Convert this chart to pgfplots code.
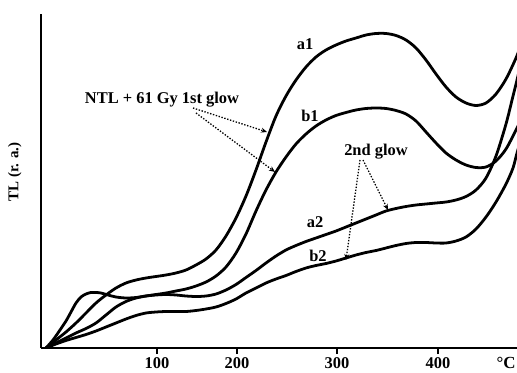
\documentclass[border=0pt]{standalone}
\usepackage{fontspec}
\setmainfont{Liberation Serif}
\usepackage{pgfplots}
\pgfplotsset{compat=1.18}
\usetikzlibrary{arrows.meta}
\begin{document}
\begin{tikzpicture}[lbl/.style={font=\bfseries\fontsize{16.5}{18}\selectfont, inner sep=0pt},
  arr/.style={line width=1.3pt, dash pattern=on 1.4pt off 1.6pt, -{Stealth[length=6pt,width=5pt]}},
  crv/.style={black, line width=2.8pt, smooth, tension=0.5, mark=none, line join=round}]
\begin{axis}[
  scale only axis, width=476bp, height=334bp,
  xmin=0, xmax=476, ymin=0, ymax=334,
  axis lines=left, axis line style={-, line width=2.6pt},
  xtick={116,196,296,397}, xticklabels={100,200,300,400},
  ytick=\empty,
  tick align=outside, major tick length=6bp, xtick style={line width=1.6pt, black},
  tick label style={font=\bfseries\fontsize{16.5}{18}\selectfont},
  ylabel={TL (r. a.)},
  ylabel style={font=\bfseries\fontsize{15}{17}\selectfont, at={(axis description cs:-0.055,0.527)}, anchor=center},
  xlabel={\textdegree C},
  xlabel style={font=\bfseries\fontsize{17}{19}\selectfont, at={(axis description cs:0.977,-0.045)}, anchor=center},
]
% a1
\addplot[crv] coordinates {(5,0)(15,8)(25,16)(35,25)(45,35)(55,45)(65,53)(75,60)(85,65)(95,68)(105,70)(115,71.5)(125,73)(135,75)(145,78)(155,83)(165,89)(175,98)(185,112)(195,130)(205,152)(215,178)(225,206)(235,232)(245,252)(255,268)(265,281)(275,291)(285,298)(295,303)(305,307)(315,310)(325,313)(335,314.5)(345,314.5)(355,312.5)(365,308)(375,300)(385,288)(395,274)(405,261)(415,251)(425,245)(435,242.5)(445,245)(455,254)(465,269)(475,290)(481,306)};
% b1
\addplot[crv] coordinates {(5,0)(12,8)(19,18)(25,27)(30,36)(35,45)(40,51)(45,54)(50,55.5)(55,55.5)(60,55)(67,53)(75,51)(85,50)(95,50.5)(105,52)(115,53.5)(125,55)(135,57)(145,59)(155,62)(165,66)(175,72)(185,81)(195,95)(205,114)(215,137)(225,158)(235,176)(245,191)(255,204)(265,214)(275,222)(285,228)(295,232.5)(305,235.5)(315,238)(325,239.5)(335,240)(345,239.5)(355,237.5)(365,234)(375,227)(385,216)(395,205)(405,195)(415,188)(425,183)(435,180.5)(445,181)(455,187)(465,199)(475,218)(481,230)};
% a2
\addplot[crv] coordinates {(5,0)(15,5)(25,10)(35,15)(45,19.5)(55,25)(65,33)(75,41)(85,46.5)(95,50)(105,52)(115,53)(125,53.5)(135,53)(145,52)(155,51.5)(165,52)(175,54)(185,58)(195,63.5)(205,70.5)(215,77.5)(225,85)(235,92)(245,98)(255,102.5)(265,106.5)(275,110)(285,113.5)(295,117)(305,121)(315,125)(325,129)(335,133)(345,137)(355,139.5)(365,141.5)(375,143)(385,144)(395,145)(405,146)(415,148)(425,151.5)(435,158)(445,170)(455,192)(465,224)(472,252)(476,268)(481,290)};
% b2
\addplot[crv] coordinates {(5,0)(15,4)(25,7.5)(35,10.5)(45,13.5)(55,17)(65,21)(75,25)(85,29)(95,32.5)(105,35)(115,36)(125,36.5)(135,36.5)(145,36.5)(155,37.5)(165,39)(175,41)(185,44.5)(195,49)(205,55)(215,60)(225,65)(235,69)(245,72.5)(255,76.5)(265,80)(275,82.5)(285,84.5)(295,87)(305,90)(315,93)(325,95.5)(335,97.5)(345,100)(355,102.5)(365,104.5)(375,105.5)(385,105.5)(395,105)(405,105)(415,107)(425,111)(435,119)(445,131)(455,146)(465,164)(472,180)(476,195)(481,212)};
\node[lbl] at (axis cs:121,248) {NTL + 61 Gy 1st glow};
\node[lbl] at (axis cs:264,304) {a1};
\node[lbl] at (axis cs:269,232) {b1};
\node[lbl] at (axis cs:335,196) {2nd glow};
\node[lbl] at (axis cs:274,126) {a2};
\node[lbl] at (axis cs:277,92) {b2};
\draw[arr] (axis cs:152,240) -- (axis cs:226,216);
\draw[arr] (axis cs:155,235) -- (axis cs:234,176);
\draw[arr] (axis cs:322,188) -- (axis cs:347,138);
\draw[arr] (axis cs:319,188) -- (axis cs:305,88);
\end{axis}
\pgfresetboundingbox
\useasboundingbox (-41bp,-25bp) rectangle (476bp,348bp);
\end{tikzpicture}
\end{document}
